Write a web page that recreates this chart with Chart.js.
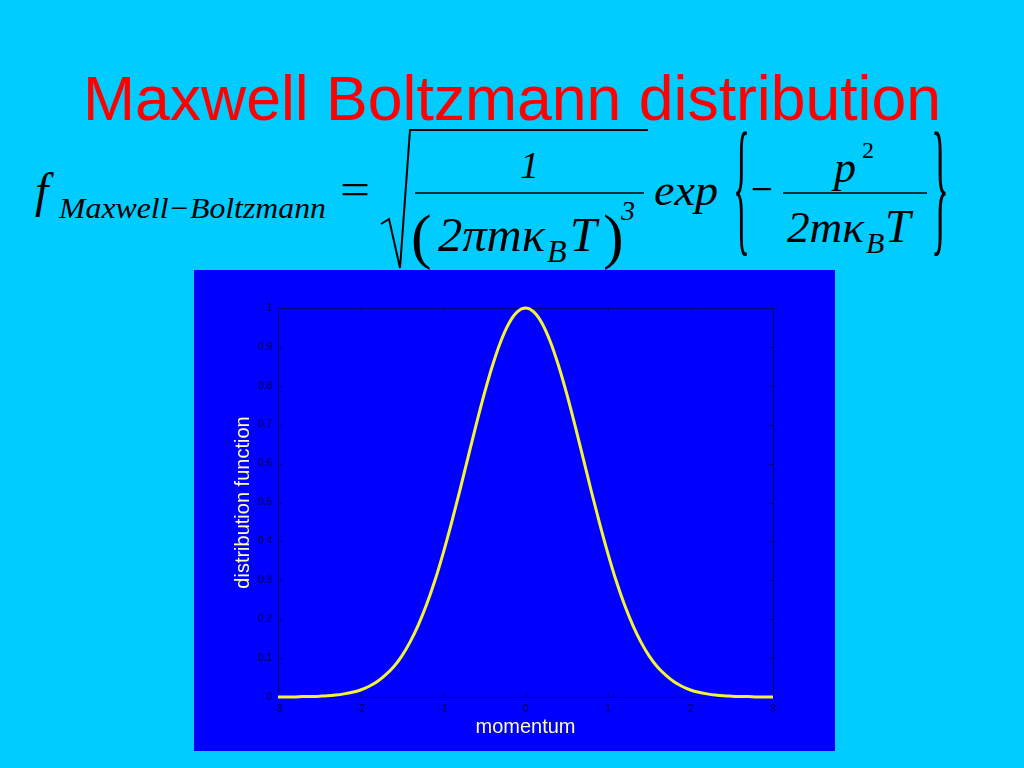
<!DOCTYPE html>
<html>
<head>
<meta charset="utf-8">
<script src="https://cdn.jsdelivr.net/npm/chart.js@4.4.0/dist/chart.umd.min.js"></script>
<style>
html,body{margin:0;padding:0;width:1024px;height:768px;overflow:hidden;background:#00CCFF;}
#slide{position:absolute;left:0;top:0;width:1024px;height:768px;}
#panel{position:absolute;left:194px;top:270px;width:641px;height:481px;background:#0000FF;}
.it{font-family:"Liberation Serif","Times New Roman",serif;font-style:italic;fill:#000;}
.rm{font-family:"Liberation Serif","Times New Roman",serif;fill:#000;}
</style>
</head>
<body>
<svg id="slide" width="1024" height="768" xmlns="http://www.w3.org/2000/svg">
  <text x="512" y="120" text-anchor="middle" font-family="Liberation Sans, Arial, sans-serif" font-size="62.5" fill="#FF0000">Maxwell Boltzmann distribution</text>
  <!-- left side -->
  <text class="it" x="35" y="207" font-size="48">f</text>
  <text class="it" x="59" y="218" font-size="30" textLength="267" lengthAdjust="spacingAndGlyphs">Maxwell−Boltzmann</text>
  <text class="rm" x="340" y="204" font-size="44" textLength="30" lengthAdjust="spacingAndGlyphs">=</text>
  <!-- square root -->
  <path d="M381,224 L389,219 L400,268 L410,130 L648,130" fill="none" stroke="#000" stroke-width="2"/>
  <text class="it" x="520" y="178" font-size="38">1</text>
  <line x1="415" y1="193" x2="644" y2="193" stroke="#000" stroke-width="1.5"/>
  <text class="rm" x="411" y="257" font-size="62">(</text>
  <text class="it" x="438" y="251" font-size="48" textLength="107" lengthAdjust="spacingAndGlyphs">2πmκ</text>
  <text class="it" x="547" y="262" font-size="32">B</text>
  <text class="it" x="570" y="251" font-size="48">T</text>
  <text class="rm" x="603" y="257" font-size="62">)</text>
  <text class="it" x="621" y="220" font-size="28">3</text>
  <!-- exp part -->
  <text class="it" x="654" y="205" font-size="44" textLength="64" lengthAdjust="spacingAndGlyphs">exp</text>
  <text class="rm" x="733" y="236" font-size="151" textLength="17" lengthAdjust="spacingAndGlyphs">{</text>
  <text class="rm" x="751" y="204" font-size="44" textLength="22" lengthAdjust="spacingAndGlyphs">−</text>
  <text class="it" x="834" y="182" font-size="44">p</text>
  <text class="rm" x="862" y="158" font-size="24">2</text>
  <line x1="783" y1="193" x2="927" y2="193" stroke="#000" stroke-width="1.5"/>
  <text class="it" x="787" y="242" font-size="44" textLength="77" lengthAdjust="spacingAndGlyphs">2mκ</text>
  <text class="it" x="866" y="253" font-size="30">B</text>
  <text class="it" x="885" y="242" font-size="46">T</text>
  <text class="rm" x="931" y="236" font-size="151" textLength="18" lengthAdjust="spacingAndGlyphs">}</text>
</svg>
<div id="panel"><canvas id="c"></canvas></div>
<script>
// ---- data ----
const momentum = [
  -3.0,-2.9,-2.8,-2.7,-2.6,-2.5,-2.4,-2.3,-2.2,-2.1,
  -2.0,-1.9,-1.8,-1.7,-1.6,-1.5,-1.4,-1.3,-1.2,-1.1,
  -1.0,-0.9,-0.8,-0.7,-0.6,-0.5,-0.4,-0.3,-0.2,-0.1,
   0.0,
   0.1, 0.2, 0.3, 0.4, 0.5, 0.6, 0.7, 0.8, 0.9, 1.0,
   1.1, 1.2, 1.3, 1.4, 1.5, 1.6, 1.7, 1.8, 1.9, 2.0,
   2.1, 2.2, 2.3, 2.4, 2.5, 2.6, 2.7, 2.8, 2.9, 3.0
];
const distribution = [
  0.000,0.000,0.000,0.001,0.001,0.002,0.003,0.005,0.008,0.012,
  0.018,0.027,0.039,0.056,0.077,0.105,0.141,0.185,0.237,0.298,
  0.368,0.445,0.527,0.613,0.698,0.779,0.852,0.914,0.961,0.990,
  1.000,
  0.990,0.961,0.914,0.852,0.779,0.698,0.613,0.527,0.445,0.368,
  0.298,0.237,0.185,0.141,0.105,0.077,0.056,0.039,0.027,0.018,
  0.012,0.008,0.005,0.003,0.002,0.001,0.001,0.000,0.000,0.000
];
const xTicks = [-3,-2,-1,0,1,2,3];
const yTicks = [0,0.1,0.2,0.3,0.4,0.5,0.6,0.7,0.8,0.9,1];
const xTickLabels = ['-3','-2','-1','0','1','2','3'];
const yTickLabels = ['0','0.1','0.2','0.3','0.4','0.5','0.6','0.7','0.8','0.9','1'];
const xTitle = 'momentum';
const yTitle = 'distribution function';

const AXIS_COLOR = '#000078';
const boxPlugin = {
  id: 'matlabBox',
  beforeDatasetsDraw(chart) {
    const {ctx, chartArea: a, scales: {x, y}} = chart;
    ctx.save();
    ctx.strokeStyle = AXIS_COLOR;
    ctx.lineWidth = 1;
    ctx.strokeRect(Math.round(a.left) + 0.5, Math.round(a.top) + 0.5,
                   Math.round(a.right - a.left), Math.round(a.bottom - a.top));
    ctx.beginPath();
    xTicks.forEach(v => {
      const px = Math.round(x.getPixelForValue(v)) + 0.5;
      ctx.moveTo(px, a.bottom); ctx.lineTo(px, a.bottom - 4);
      ctx.moveTo(px, a.top); ctx.lineTo(px, a.top + 4);
    });
    yTicks.forEach(v => {
      const py = Math.round(y.getPixelForValue(v)) + 0.5;
      ctx.moveTo(a.left, py); ctx.lineTo(a.left + 4, py);
      ctx.moveTo(a.right, py); ctx.lineTo(a.right - 4, py);
    });
    ctx.stroke();
    ctx.restore();
  }
};

const tickFont = {family: '"Liberation Sans", Arial, sans-serif', size: 10};
const titleFont = {family: '"Liberation Sans", Arial, sans-serif', size: 20};

new Chart(document.getElementById('c'), {
  type: 'line',
  data: {
    datasets: [{
      data: momentum.map((m, i) => ({x: m, y: distribution[i]})),
      borderColor: '#F4F436',
      borderWidth: 3,
      pointRadius: 0,
      cubicInterpolationMode: 'monotone',
      fill: false,
      clip: false
    }]
  },
  options: {
    responsive: true,
    maintainAspectRatio: false,
    animation: false,
    layout: {padding: {left: 37, right: 62, top: 38, bottom: 12}},
    plugins: {legend: {display: false}, tooltip: {enabled: false}},
    scales: {
      x: {
        type: 'linear', min: -3, max: 3,
        grid: {display: false, drawTicks: false},
        border: {display: false},
        afterBuildTicks: s => { s.ticks = xTicks.map(v => ({value: v})); },
        ticks: {color: '#00003C', font: tickFont, padding: 6, maxRotation: 0, autoSkip: false,
                callback: (v, i) => xTickLabels[i]},
        title: {display: true, text: xTitle, color: '#FFFFB4', font: titleFont, padding: 0},
        afterFit: s => { s.height = 42; }
      },
      y: {
        type: 'linear', min: 0, max: 1,
        grid: {display: false, drawTicks: false},
        border: {display: false},
        afterBuildTicks: s => { s.ticks = yTicks.map(v => ({value: v})); },
        ticks: {color: '#00003C', font: tickFont, padding: 6, autoSkip: false,
                callback: (v, i) => yTickLabels[i]},
        title: {display: true, text: yTitle, color: '#FFFFB4', font: titleFont, padding: 0},
        afterFit: s => { s.width = 47; }
      }
    }
  },
  plugins: [boxPlugin]
});
</script>
</body>
</html>
